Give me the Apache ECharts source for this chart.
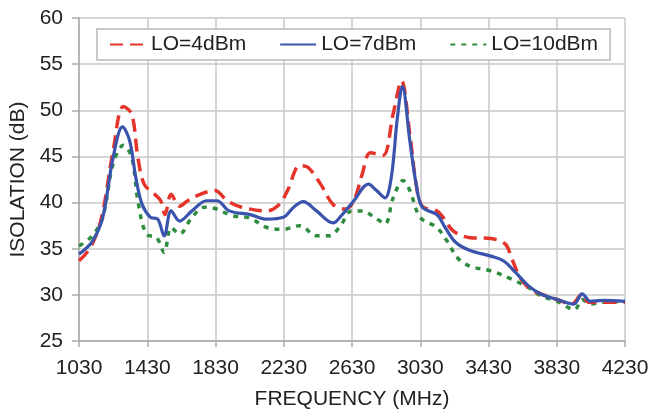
<!DOCTYPE html>
<html><head><meta charset="utf-8">
<script src="https://cdn.jsdelivr.net/npm/echarts@6/dist/echarts.min.js"></script>
<style>html,body{margin:0;padding:0;background:#fff}#c{width:652px;height:410px}</style>
</head><body><div id="c"></div>
<script>
const xTicks = [1030,1430,1830,2230,2630,3030,3430,3830,4230];
const yTicks = [25,30,35,40,45,50,55,60];

const freq4 = [1030,1096,1160,1230,1290,1339,1375,1412,1473,1509,1534,1570,1619,1667,1740,1826,1899,1984,2130,2203,2252,2324,2373,2446,2519,2592,2641,2690,2738,2811,2871,2920,2969,3006,3042,3127,3164,3225,3322,3444,3529,3565,3614,3663,3736,3833,3918,3979,4015,4100,4230];
const lo4 = [33.7,35.1,38.2,45.6,50.4,49.6,44.9,42.0,40.9,40.2,38.7,40.9,39.6,40.2,40.9,41.3,40.2,39.5,39.1,39.8,41.3,44.0,43.8,42.0,39.8,39.3,40.2,43.1,45.4,45.1,49.6,53.2,47.4,42.0,39.6,39.1,38.4,36.9,36.2,36.1,35.5,34.0,31.9,30.8,30.1,29.5,29.0,30.1,29.2,29.2,29.2];

const freq7 = [1030,1108,1169,1230,1285,1327,1363,1400,1449,1492,1529,1570,1619,1692,1777,1838,1911,2033,2130,2227,2288,2344,2422,2519,2568,2641,2726,2774,2823,2860,2896,2925,2969,3006,3042,3127,3176,3237,3322,3444,3517,3590,3663,3736,3833,3930,3979,4027,4100,4230];
const lo7 = [34.4,35.8,38.4,44.9,48.2,46.7,42.7,39.8,38.4,38.2,36.4,39.1,38.0,39.1,40.2,40.2,39.1,38.7,38.2,38.4,39.5,40.1,39.1,37.8,38.6,40.2,42.0,41.3,40.5,42.7,49.2,52.6,46.7,42.0,39.5,38.7,37.3,35.7,34.8,34.2,33.7,32.4,31.0,30.1,29.5,29.0,30.1,29.3,29.4,29.3];

const freq10 = [1030,1108,1169,1230,1290,1339,1375,1424,1485,1529,1570,1619,1692,1765,1838,1923,2033,2130,2227,2324,2422,2495,2556,2629,2690,2762,2823,2871,2929,2969,3030,3127,3188,3249,3322,3444,3565,3663,3736,3833,3935,3979,4027,4100,4230];
const lo10 = [35.3,36.4,38.4,44.2,46.2,44.9,40.2,36.6,36.2,34.6,37.3,36.6,38.4,39.5,39.3,38.6,38.3,37.3,37.1,37.5,36.4,36.4,37.3,39.1,39.1,38.4,37.7,40.5,42.4,41.3,38.4,37.3,35.8,34.0,33.1,32.6,31.7,30.8,29.9,29.3,28.4,29.5,29.0,29.2,29.3];

const names = ['LO=4dBm','LO=7dBm','LO=10dBm'];

const zip = (xs, ys) => xs.map((x, i) => [x, ys[i]]);
const font = 'Liberation Sans, Arial, sans-serif';

const chart = echarts.init(document.getElementById('c'));
chart.setOption({
  animation: false,
  grid: {left: 79, right: 27, top: 18, bottom: 69, outerBoundsMode: 'none', containLabel: false},
  legend: {
    left: 97, top: 29, width: 520,
    padding: [5, 12, 5, 12],
    backgroundColor: '#fff',
    borderColor: '#b8b8b8', borderWidth: 1.5,
    itemWidth: 36, itemHeight: 14, itemGap: 33,
    itemStyle: {opacity: 0},
    textStyle: {fontFamily: font, fontSize: 21, color: '#222'},
    data: names
  },
  xAxis: {
    type: 'value', min: 1030, max: 4230, interval: 400,
    name: 'FREQUENCY (MHz)', nameLocation: 'middle', nameGap: 48,
    nameTextStyle: {fontFamily: font, fontSize: 21, color: '#222'},
    axisLine: {show: true, lineStyle: {color: '#aaa', width: 1.5}},
    axisTick: {show: true, length: 6, lineStyle: {color: '#aaa', width: 1.5}},
    axisLabel: {fontFamily: font, fontSize: 21, color: '#222', margin: 17,
      formatter: v => xTicks.includes(v) ? String(v) : ''},
    splitLine: {show: true, lineStyle: {color: '#c8c8c8', width: 1.5}}
  },
  yAxis: {
    type: 'value', min: 25, max: 60, interval: 5,
    name: 'ISOLATION (dB)', nameLocation: 'middle', nameGap: 50,
    nameTextStyle: {fontFamily: font, fontSize: 21, color: '#222'},
    axisLine: {show: true, lineStyle: {color: '#aaa', width: 1.5}},
    axisTick: {show: true, length: 7, lineStyle: {color: '#aaa', width: 1.5}},
    axisLabel: {fontFamily: font, fontSize: 21, color: '#222', margin: 16,
      formatter: v => yTicks.includes(v) ? String(v) : ''},
    splitLine: {show: true, lineStyle: {color: '#c8c8c8', width: 1.5}}
  },
  series: [
    {name: names[0], type: 'line', data: zip(freq4, lo4), symbol: 'none', smooth: 0.35,
     color: '#e5352b', lineStyle: {color: '#e5352b', width: 3.5, type: [13, 7]}, z: 3},
    {name: names[1], type: 'line', data: zip(freq7, lo7), symbol: 'none', smooth: 0.35,
     color: '#3a54ad', lineStyle: {color: '#3a54ad', width: 3.2, type: 'solid'}, z: 4},
    {name: names[2], type: 'line', data: zip(freq10, lo10), symbol: 'none', smooth: 0.35,
     color: '#2e8c3e', lineStyle: {color: '#2e8c3e', width: 3.5, type: [5, 6]}, z: 2}
  ]
});
</script></body></html>
